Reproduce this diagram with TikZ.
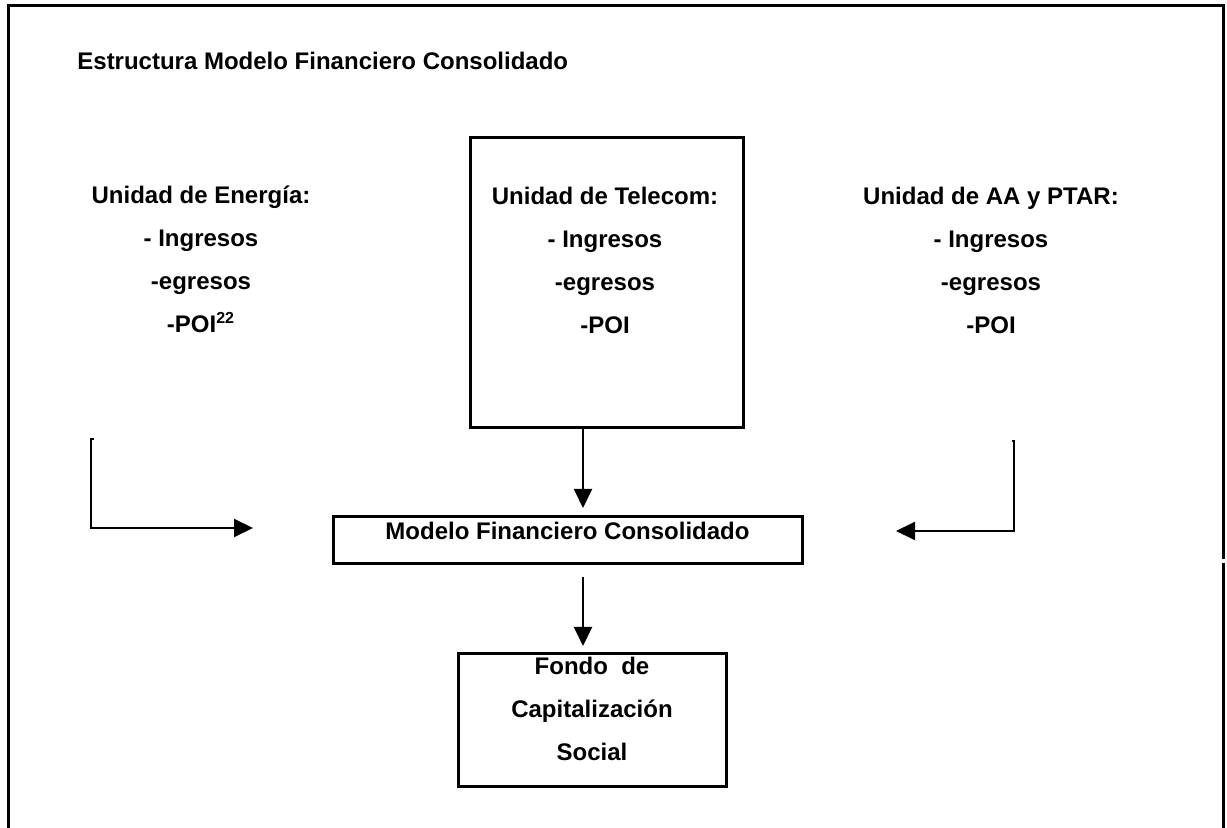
\documentclass[tikz,border=0pt]{standalone}
\usepackage{fontspec}
\setmainfont{Liberation Sans}
\usetikzlibrary{calc,positioning,arrows.meta}

\begin{document}
\begin{tikzpicture}[x=0.5pt, y=-0.5pt, >={Triangle[length=9.5pt,width=9pt]},
    txt/.style={font=\fontsize{12pt}{21.5pt}\selectfont\bfseries, align=center, inner sep=0pt},
    box/.style={draw, line width=1.5pt, inner sep=0pt},
    conn/.style={line width=1pt, ->}]
    \useasboundingbox (0,0) rectangle (1227,828);
    \draw[line width=1.5pt] (1223,559) -- (1223,6) -- (8,6) -- (8,828);
    \draw[line width=1.5pt] (1223,563) -- (1223,828);
    \node[txt, anchor=base west] (title) at (77,70) {Estructura Modelo Financiero Consolidado};
    \node[txt] (energia) at (201,259.5) {Unidad de Energía:\\- Ingresos\\-egresos\\-POI\textsuperscript{22}};
    \node[box, minimum width=136.5pt, minimum height=145pt] (telecom) at (606.5,283) {};
    \node[txt] (telecomtxt) at (605,260) {Unidad de Telecom:\\- Ingresos\\-egresos\\-POI};
    \node[txt] (aaptar) at (991,260) {Unidad de AA y PTAR:\\- Ingresos\\-egresos\\-POI};
    \node[box, minimum width=234.5pt, minimum height=23.5pt] (modelo) at (567.5,540.5) {};
    \node[txt] (modelotxt) at (567.5,531) {Modelo Financiero Consolidado};
    \node[box, minimum width=134pt, minimum height=66.5pt] (fondo) at (592,719.5) {};
    \node[txt] (fondotxt) at (592,709) {Fondo\ \ de\\Capitalización\\Social};
    \coordinate (tip1) at (583,508);
    \coordinate (tip2) at (583,646);
    \draw[conn] (telecom.south -| tip1) -- (tip1);
    \draw[conn] ($(modelo.south -| tip2)+(0,12)$) -- (tip2);
    \coordinate (etop) at (91,439);
    \coordinate (etip) at (253,528);
    \draw[conn] ([xshift=1.5pt]etop) -- (etop) -- (etop |- etip) -- (etip);
    \coordinate (atop) at (1014,441);
    \coordinate (atip) at (896,531);
    \draw[conn] ([xshift=-1pt]atop) -- (atop) -- (atop |- atip) -- (atip);
\end{tikzpicture}
\end{document}
